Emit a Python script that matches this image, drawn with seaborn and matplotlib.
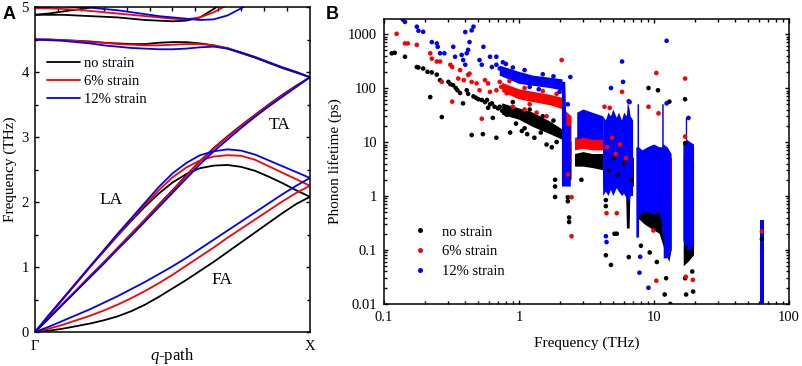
import numpy as np
import pandas as pd
import matplotlib
matplotlib.use("Agg")
import matplotlib.pyplot as plt
import seaborn as sns
from matplotlib.lines import Line2D
from matplotlib.ticker import MultipleLocator, LogLocator, NullFormatter, FixedLocator, FixedFormatter

sns.set_theme(style="ticks")
plt.rcParams.update({
    "font.family": ["Liberation Serif", "DejaVu Serif"],
    "mathtext.fontset": "custom",
    "mathtext.rm": "Liberation Serif",
    "mathtext.it": "Liberation Serif:italic",
    "xtick.direction": "in", "ytick.direction": "in",
    "axes.linewidth": 1.1, "axes.edgecolor": "black",
    "xtick.color": "black", "ytick.color": "black",
    "text.color": "black", "axes.labelcolor": "black",
})

nan = np.nan
STRAINS = ["no strain", "6% strain", "12% strain"]
COLORS = ["#000000", "#ff0000", "#0000ff"]

# ---------------- Panel A: dispersion (q from Gamma to X) ----------------
q = [0.00, 0.05, 0.10, 0.15, 0.20, 0.25, 0.30, 0.35, 0.40, 0.45, 0.50,
     0.55, 0.60, 0.65, 0.70, 0.75, 0.80, 0.85, 0.90, 0.95, 1.00]

fa_0 = [0, 0.02, 0.05, 0.09, 0.13, 0.18, 0.24, 0.32, 0.42, 0.54, 0.67, 0.80, 0.94, 1.08, 1.23, 1.38, 1.53, 1.68, 1.83, 1.97, 2.08]
fa_6 = [0, 0.05, 0.11, 0.18, 0.25, 0.33, 0.42, 0.52, 0.63, 0.75, 0.88, 1.02, 1.16, 1.30, 1.45, 1.59, 1.73, 1.87, 2.01, 2.14, 2.25]
fa_12 = [0, 0.08, 0.17, 0.26, 0.35, 0.45, 0.55, 0.66, 0.77, 0.89, 1.01, 1.14, 1.28, 1.42, 1.56, 1.70, 1.84, 1.98, 2.12, 2.25, 2.37]

la_0 = [0, 0.25, 0.50, 0.75, 1.00, 1.24, 1.48, 1.71, 1.93, 2.13, 2.30, 2.43, 2.52, 2.56, 2.57, 2.54, 2.48, 2.39, 2.29, 2.18, 2.08]
la_6 = [0, 0.25, 0.50, 0.75, 1.00, 1.25, 1.49, 1.73, 1.96, 2.18, 2.38, 2.53, 2.64, 2.70, 2.72, 2.71, 2.65, 2.55, 2.45, 2.35, 2.25]
la_12 = [0, 0.26, 0.51, 0.76, 1.01, 1.26, 1.51, 1.75, 1.99, 2.23, 2.44, 2.60, 2.72, 2.78, 2.81, 2.79, 2.73, 2.64, 2.55, 2.46, 2.37]

ta_0 = [0, 0.21, 0.43, 0.64, 0.86, 1.07, 1.29, 1.51, 1.73, 1.96, 2.18, 2.41, 2.63, 2.83, 3.01, 3.18, 3.34, 3.50, 3.65, 3.79, 3.92]
ta_6 = [0, 0.21, 0.43, 0.64, 0.86, 1.07, 1.29, 1.51, 1.73, 1.95, 2.17, 2.40, 2.62, 2.82, 3.00, 3.17, 3.33, 3.49, 3.64, 3.78, 3.92]
ta_12 = [0, 0.21, 0.42, 0.63, 0.84, 1.05, 1.27, 1.48, 1.70, 1.92, 2.14, 2.36, 2.58, 2.78, 2.96, 3.14, 3.31, 3.47, 3.62, 3.77, 3.92]

op_0 = [4.50, 4.50, 4.49, 4.48, 4.47, 4.45, 4.44, 4.43, 4.43, 4.45, 4.46, 4.46, 4.44, 4.41, 4.36, 4.29, 4.22, 4.14, 4.06, 3.99, 3.92]
op_6 = [4.50, 4.50, 4.49, 4.48, 4.46, 4.45, 4.43, 4.42, 4.41, 4.41, 4.42, 4.43, 4.43, 4.41, 4.37, 4.30, 4.23, 4.15, 4.07, 4.00, 3.92]
op_12 = [4.50, 4.49, 4.48, 4.46, 4.44, 4.41, 4.39, 4.37, 4.36, 4.35, 4.35, 4.36, 4.38, 4.39, 4.36, 4.30, 4.23, 4.15, 4.07, 4.00, 3.92]

t1_0 = [4.88, 4.88, 4.88, 4.87, 4.86, 4.85, 4.84, 4.82, 4.80, 4.79, 4.78, 4.79, 4.84, 4.97, 5.12, nan, nan, nan, nan, nan, nan]
t1_6 = [4.98, 4.98, 4.97, 4.96, 4.94, 4.92, 4.90, 4.88, 4.86, 4.84, 4.82, 4.81, 4.84, 4.92, 5.03, 5.12, nan, nan, nan, nan, nan]
t1_12 = [5.01, 5.01, 5.01, 5.00, 4.99, 4.97, 4.95, 4.92, 4.89, 4.86, 4.84, 4.82, 4.80, 4.81, 4.87, 4.98, 5.10, nan, nan, nan, nan]
t2_0 = [4.88, 4.90, 4.93, 4.96, 4.99, 5.03, nan, nan, nan, nan, nan, nan, nan, nan, nan, nan, nan, nan, nan, nan, nan]
t2_6 = [4.98, 5.00, 5.04, nan, nan, nan, nan, nan, nan, nan, nan, nan, nan, nan, nan, nan, nan, nan, nan, nan, nan]

band_sets = {
    "no strain": {"FA": fa_0, "LA": la_0, "TA": ta_0, "OP": op_0, "T1": t1_0, "T2": t2_0},
    "6% strain": {"FA": fa_6, "LA": la_6, "TA": ta_6, "OP": op_6, "T1": t1_6, "T2": t2_6},
    "12% strain": {"FA": fa_12, "LA": la_12, "TA": ta_12, "OP": op_12, "T1": t1_12},
}

# ---------------- Panel B: phonon lifetimes ----------------
black_f = [0.114, 0.12, 0.143, 0.175, 0.18, 0.195, 0.21, 0.226, 0.22, 0.246,
           0.26, 0.268, 0.30, 0.31, 0.325, 0.34, 0.35, 0.366, 0.385, 0.41,
           0.42, 0.446, 0.46, 0.48, 0.50, 0.53, 0.54, 0.56, 0.58, 0.59,
           0.61, 0.63, 0.64, 0.66, 0.68, 0.70, 0.72, 0.75, 0.78, 0.81,
           0.86, 0.95, 1.05, 1.15, 1.30, 1.45, 1.60, 1.75, 1.85, 1.85,
           1.85, 2.30, 2.30, 2.35, 2.35, 2.90, 4.40, 4.40, 4.40, 4.80,
           5.10, 5.30, 6.50, 9.10, 10.7, 13.0, 17.0, 8.00, 9.30, 10.5,
           12.0, 12.3, 13.2, 17.3, 17.0, 19.5, 19.2, 17.0, 63.0,
           0.90, 1.20, 1.50, 1.80, 1.10, 1.90, 4.60, 5.40, 6.00, 6.80, 5.00]
black_tau = [440, 450, 380, 245, 240, 230, 200, 195, 68, 177,
             140, 29, 130, 118, 113, 100, 91, 81, 52, 91,
             78, 13.5, 70, 66, 62, 60, 14, 55, 60, 43,
             50, 52, 28, 45, 12, 42, 45, 38, 36, 32,
             15, 22, 16, 14, 12, 15, 9, 8, 2.0, 1.5,
             0.96, 0.95, 0.80, 0.40, 0.33, 2.0, 0.84, 0.65, 0.08, 0.053,
             0.20, 0.20, 0.074, 100, 91, 56, 62, 0.12, 0.09, 0.06,
             0.015, 0.03, 0.010, 0.015, 0.03, 0.017, 0.04, 9.5, 0.16,
             55, 40, 30, 25, 18, 10, 3.0, 2.5, 4.0, 2.0, 5.0]

red_f = [0.124, 0.143, 0.150, 0.175, 0.220, 0.226, 0.246, 0.260, 0.268, 0.310,
         0.320, 0.320, 0.355, 0.366, 0.420, 0.430, 0.446, 0.485, 0.510, 0.530,
         0.560, 0.590, 0.610, 0.680, 0.720, 0.740, 0.810, 0.390, 0.900, 1.100,
         1.350, 1.600, 2.070, 2.450, 2.450, 2.300, 4.450, 5.300, 5.800, 4.700,
         9.100, 10.40, 10.80, 17.00, 17.00, 9.900, 10.40, 17.20, 19.40, 4.300, 63.0,
         0.85, 1.10, 1.50, 1.90, 1.20, 4.50, 5.20, 5.60, 6.20, 4.90]
red_tau = [1010, 670, 670, 630, 440, 350, 310, 310, 130, 270,
           245, 56, 150, 215, 175, 185, 130, 122, 91, 27,
           140, 122, 85, 91, 130, 105, 80, 140, 45, 40,
           35, 30, 330, 0.95, 0.18, 2.5, 0.48, 0.48, 85, 43,
           45, 190, 34, 150, 12.6, 0.23, 0.027, 0.032, 0.028, 45, 0.22,
           135, 100, 88, 78, 50, 8.0, 6.0, 9.0, 5.0, 12]

blue_f = [0.138, 0.143, 0.175, 0.180, 0.195, 0.226, 0.246, 0.250, 0.260, 0.280,
          0.326, 0.336, 0.376, 0.386, 0.400, 0.410, 0.420, 0.400, 0.446, 0.460,
          0.430, 0.510, 0.530, 0.545, 0.610, 0.680, 0.630, 0.680, 0.720, 2.400,
          2.300, 5.800, 5.900, 4.800, 6.500, 12.40, 12.40, 18.00, 4.450, 4.400,
          7.800, 9.100, 7.900, 6.600,
          0.80, 0.90, 1.10, 1.20, 1.50, 1.80, 1.40, 2.00, 0.76]
blue_tau = [1850, 1680, 1370, 1150, 1100, 710, 670, 580, 440, 440,
            580, 380, 410, 330, 270, 440, 510, 1090, 1170, 1370,
            710, 330, 270, 580, 380, 380, 245, 270, 230, 160,
            50, 310, 130, 100, 57, 750, 52, 28, 0.14, 0.18,
            0.038, 0.020, 0.075, 55,
            280, 240, 215, 105, 180, 165, 95, 85, 300]

# dense (saturated) regions: frequency, lower and upper lifetime edges; nan separates clusters
black_dense_f = [0.75, 1.0, 1.27, 1.7, 2.1, nan, 2.12, 2.45, nan, 2.6, 3.0, 3.5, 4.2, nan,
                 4.2, 5.0, 6.2, 6.3, 6.6, 6.7, 7.1, nan, 7.5, 8.5, 9.5, 11.0, 12.0, 13.0, 13.5, nan,
                 16.6, 18.0, 19.8, nan, 61.5, 65.0]
black_dense_lo = [32, 26, 19, 14, 11, nan, 2.0, 2.0, nan, 3.5, 3.5, 3.3, 3.0, nan,
                  1.5, 1.5, 1.5, 0.25, 0.25, 1.5, 1.5, nan, 0.4, 0.3, 0.25, 0.2, 0.1, 0.06, 0.1, nan,
                  0.05, 0.06, 0.08, nan, 0.01, 0.01]
black_dense_hi = [52, 42, 35, 24, 17, nan, 12, 10, nan, 6.0, 6.5, 6.0, 6.0, nan,
                  6, 6, 6, 6, 6, 6, 5, nan, 4, 4, 4, 4, 4, 4, 3, nan,
                  5, 5, 4, nan, 0.16, 0.16]

red_dense_f = [0.75, 1.0, 1.27, 1.7, 2.15, nan, 2.15, 2.45, nan, 2.6, 3.0, 3.5, 4.2, nan,
               4.2, 5.0, 6.0, 7.0, nan, 7.5, 13.5, nan, 16.6, 19.8]
red_dense_lo = [85, 62, 55, 48, 40, nan, 4, 4, nan, 7, 7.5, 7, 7, nan,
                3, 3, 3, 3, nan, 0.7, 0.7, nan, 0.25, 0.25]
red_dense_hi = [125, 95, 85, 75, 65, nan, 40, 30, nan, 12, 13, 12, 12, nan,
                10, 12, 10, 10, nan, 5, 5, nan, 6, 6]

blue_dense_f = [0.72, 1.0, 1.27, 1.7, 2.1, nan, 2.08, 2.2, 2.25, 2.42, nan, 2.7, 3.0, 3.5, 4.2, nan,
                4.2, 4.4, 4.6, 4.8, 5.0, 5.3, 5.5, 5.8, 6.0, 6.3, 6.4, 6.6, 6.7, 7.0, nan,
                7.4, 7.55, 7.55, 7.75, 7.75, 8.2, 9.0, 10.0, 11.0, 11.5, 11.5, 11.8, 11.8, 12.6, 13.5, nan,
                16.5, 17.2, 17.2, 17.6, 17.6, 18.5, 19.8, nan, 61.5, 65.0]
blue_dense_lo = [170, 120, 110, 100, 90, nan, 1.5, 1.5, 1.5, 1.5, nan, 11, 12, 11, 11, nan,
                 1.0, 1.2, 1.0, 1.3, 1.0, 1.4, 1.2, 1.0, 1.1, 0.9, 0.8, 0.8, 1.0, 1.0, nan,
                 0.17, 0.17, 0.17, 0.17, 0.4, 0.5, 0.5, 0.45, 0.5, 0.3, 0.2, 0.2, 0.07, 0.07, 0.1, nan,
                 0.15, 0.12, 0.12, 0.12, 0.10, 0.10, 0.12, nan, 0.01, 0.01]
blue_dense_hi = [260, 200, 170, 155, 145, nan, 130, 130, 20, 20, nan, 35, 40, 35, 30, nan,
                 30, 25, 35, 30, 40, 28, 35, 25, 35, 30, 55, 40, 30, 25, nan,
                 8, 8, 50, 50, 8, 7, 8, 9, 8, 8, 50, 50, 9, 8, 6, nan,
                 10, 10, 28, 28, 11, 10, 9, nan, 0.36, 0.36]

# ---------------- figure ----------------
W, H = 803, 366
fig = plt.figure(figsize=(W / 100, H / 100), dpi=100)

def px_axes(x0, y0, x1, y1):
    return fig.add_axes([x0 / W, 1 - y1 / H, (x1 - x0) / W, (y1 - y0) / H])

axA = px_axes(35, 7, 310, 332)
axB = px_axes(384, 19, 789, 304)

# ---- Panel A ----
rows = []
for s in STRAINS:
    for bname, vals in band_sets[s].items():
        for qq, v in zip(q, vals):
            rows.append((s, bname, qq, v))
dfA = pd.DataFrame(rows, columns=["strain", "branch", "q", "freq"]).dropna()
sns.lineplot(data=dfA, x="q", y="freq", hue="strain", units="branch", estimator=None,
             hue_order=STRAINS, palette=COLORS, legend=False, lw=1.3, sort=False, ax=axA)
axA.set_xlim(0, 1)
axA.set_ylim(0, 5)
axA.yaxis.set_major_locator(MultipleLocator(1))
axA.yaxis.set_minor_locator(MultipleLocator(0.5))
axA.set_xticks([0, 1])
axA.set_xticklabels(["Γ", "X"])
axA.xaxis.set_minor_locator(FixedLocator([k / 12 for k in range(1, 12)]))
axA.tick_params(axis="y", which="both", left=True, right=True, labelsize=10.5, pad=4.5)
axA.tick_params(axis="y", which="major", length=3.2, width=1.0)
axA.tick_params(axis="y", which="minor", length=2.0, width=1.0)
axA.tick_params(axis="x", which="major", bottom=False, top=False, labelsize=10.5, pad=6)
axA.tick_params(axis="x", which="minor", bottom=False, top=True, length=3.2, width=1.0)
axA.set_xlabel("$q$-path", fontsize=12)
axA.xaxis.set_label_coords(0.5, -0.042)
axA.set_ylabel("Frequency (THz)", fontsize=11, labelpad=3)
axA.text(0.276, 2.03, "LA", fontsize=12.5, ha="center", va="center")
axA.text(0.89, 3.18, "TA", fontsize=12.5, ha="center", va="center")
axA.text(0.68, 0.80, "FA", fontsize=12.5, ha="center", va="center")
handlesA = [Line2D([], [], color=c, lw=1.3) for c in COLORS]
axA.legend(handlesA, STRAINS, loc="upper left", bbox_to_anchor=(0.005, 0.878), frameon=False,
           fontsize=10.5, handlelength=2.3, handletextpad=0.25, labelspacing=0.33, borderaxespad=0.3)

# ---- Panel B ----
dens = [(black_dense_f, black_dense_lo, black_dense_hi),
        (red_dense_f, red_dense_lo, red_dense_hi),
        (blue_dense_f, blue_dense_lo, blue_dense_hi)]
for (fx, lo, hi), c in zip(dens, COLORS):
    axB.fill_between(np.array(fx, float), np.array(lo, float), np.array(hi, float),
                     color=c, lw=0, zorder=1)

rowsB = []
for s, fs, ts in zip(STRAINS, [black_f, red_f, blue_f], [black_tau, red_tau, blue_tau]):
    for fv, tv in zip(fs, ts):
        rowsB.append((s, fv, tv))
dfB = pd.DataFrame(rowsB, columns=["strain", "f", "tau"])
sns.scatterplot(data=dfB, x="f", y="tau", hue="strain", hue_order=STRAINS, palette=COLORS,
                s=11, linewidth=0, legend=False, ax=axB, zorder=2)
axB.set_xscale("log")
axB.set_yscale("log")
axB.set_xlim(0.1, 100)
axB.set_ylim(0.01, 1900)
axB.xaxis.set_major_locator(FixedLocator([0.1, 1, 10, 100]))
axB.xaxis.set_major_formatter(FixedFormatter(["0.1", "1", "10", "100"]))
axB.yaxis.set_major_locator(FixedLocator([0.01, 0.1, 1, 10, 100, 1000]))
axB.yaxis.set_major_formatter(FixedFormatter(["0.01", "0.1", "1", "10", "100", "1000"]))
axB.xaxis.set_minor_locator(LogLocator(base=10, subs=np.arange(2, 10)))
axB.yaxis.set_minor_locator(LogLocator(base=10, subs=np.arange(2, 10)))
axB.xaxis.set_minor_formatter(NullFormatter())
axB.yaxis.set_minor_formatter(NullFormatter())
axB.tick_params(which="both", top=True, right=True, labelsize=10.5, width=1.0)
axB.tick_params(which="major", length=3.2, pad=5)
axB.tick_params(which="minor", length=2.0)
axB.set_xlabel("Frequency (THz)", fontsize=11, labelpad=9)
axB.set_ylabel("Phonon lifetime (ps)", fontsize=11, labelpad=4)
handlesB = [Line2D([], [], color=c, marker="o", ls="none", markersize=3.6, markeredgewidth=0) for c in COLORS]
axB.legend(handlesB, STRAINS, loc="lower left", bbox_to_anchor=(0.045, 0.055), frameon=False,
           fontsize=10.5, handlelength=1.0, handletextpad=1.05, labelspacing=0.45, borderaxespad=0.3)

for ax in (axA, axB):
    for sp in ax.spines.values():
        sp.set_visible(True)
        sp.set_color("black")
        sp.set_linewidth(1.1)

fig.text(3 / W, 1 - 6 / H, "A", fontsize=13, fontweight="bold", family="Liberation Sans", va="top", ha="left")
fig.text(326 / W, 1 - 6 / H, "B", fontsize=13, fontweight="bold", family="Liberation Sans", va="top", ha="left")

fig.savefig("out.png", dpi=100)
